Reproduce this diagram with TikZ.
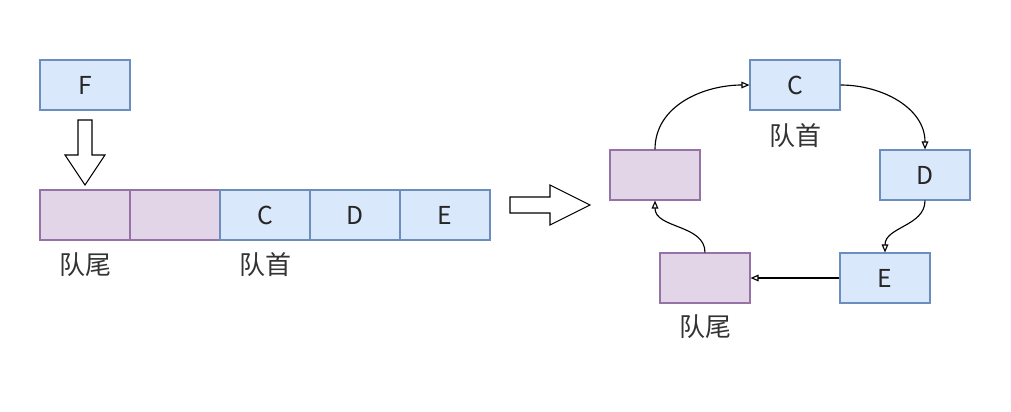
\documentclass[tikz,border=0pt]{standalone}
\usepackage{fontspec}
\setmainfont{Noto Sans CJK SC}
\usetikzlibrary{arrows.meta}
\definecolor{bfill}{HTML}{DAE8FC}
\definecolor{bdraw}{HTML}{6C8EBF}
\definecolor{pfill}{HTML}{E1D5E7}
\definecolor{pdraw}{HTML}{9673A6}
\tikzset{
  bluebox/.style={draw=bdraw, fill=bfill, line width=0.8pt, minimum width=90*0.75pt, minimum height=50*0.75pt, inner sep=0pt, font=\fontsize{18.5}{20}\selectfont, text=black!85},
  purplebox/.style={draw=pdraw, fill=pfill, line width=0.8pt, minimum width=90*0.75pt, minimum height=50*0.75pt, inner sep=0pt},
  lbl/.style={font=\fontsize{19.5}{21}\selectfont, text=black!80, inner sep=0pt},
  conn/.style={draw=black, line width=0.85pt, -{Triangle[open, length=6pt, width=5pt]}},
  bigarrow/.style={draw=black, fill=white, line width=0.8pt, line join=miter}
}
\begin{document}
\begin{tikzpicture}[x=0.75pt, y=-0.75pt]
\useasboundingbox (0,0) rectangle (1011,411);
% left part
\node[bluebox] (F) at (85,85) {F};
\node[purplebox] (q1) at (85,215) {};
\node[purplebox] (q2) at (175,215) {};
\node[bluebox] (q3) at (265,215) {C};
\node[bluebox] (q4) at (355,215) {D};
\node[bluebox] (q5) at (445,215) {E};
\node[lbl] (tail1) at (85,265) {队尾};
\node[lbl] (head1) at (265,265) {队首};
% hollow down arrow
\draw[bigarrow] (78,120) -- (92,120) -- (92,155) -- (105,155) -- (85,185) -- (65,155) -- (78,155) -- cycle;
% hollow right arrow
\draw[bigarrow] (510,197) -- (550,197) -- (550,185) -- (590,205) -- (550,225) -- (550,213) -- (510,213) -- cycle;
% right part
\node[bluebox] (C) at (795,85) {C};
\node[bluebox] (D) at (925,175) {D};
\node[bluebox] (E) at (885,278) {E};
\node[purplebox] (P1) at (705,278) {};
\node[purplebox] (P2) at (655,175) {};
\node[lbl] (head2) at (795,136) {队首};
\node[lbl] (tail2) at (705,327) {队尾};
\draw[conn] (P2.north) to[out=90, in=180] (C.west);
\draw[conn] (C.east) to[out=0, in=90] (D.north);
\draw[conn] (D.south) to[out=-90, in=90] (E.north);
\draw[conn] (E.west) -- (P1.east);
\draw[conn] (P1.north) to[out=90, in=-90] (P2.south);
\end{tikzpicture}
\end{document}
